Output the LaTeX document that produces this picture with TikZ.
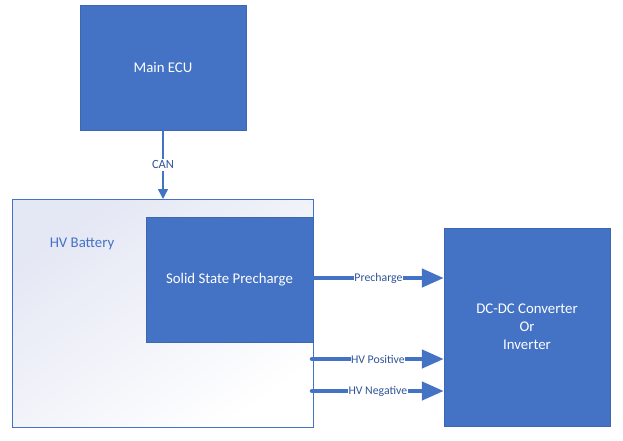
\documentclass[tikz,border=0pt]{standalone}
\usepackage{fontspec}
\setmainfont{Carlito}
\usetikzlibrary{arrows.meta}
\definecolor{boxblue}{HTML}{4472C4}
\definecolor{lineblue}{HTML}{4472C4}
\definecolor{txtblue}{HTML}{2F5597}
\definecolor{shadeblue}{HTML}{E4E7F4}
\tikzset{
  bluebox/.style={draw=boxblue!90!black, line width=0.4pt, fill=boxblue, text=white, font=\fontsize{14.8}{18}\selectfont, align=center, inner sep=0pt},
  fatarrow/.style={draw=lineblue, line width=4.5pt, line cap=round, -{Triangle[length=22pt,width=18pt]}},
  arrlabel/.style={fill=white, text=txtblue, font=\fontsize{11.8}{14}\selectfont, inner sep=0.5pt},
}
\begin{document}
\begin{tikzpicture}[x=1pt,y=-1pt]
\useasboundingbox (0,0) rectangle (623,440);
% HV battery frame
\shade[top color=shadeblue, bottom color=white, shading angle=35] (12,199) rectangle (313,427);
\draw[lineblue, line width=1pt] (12,199) rectangle (313,427);
\node[anchor=base, text=boxblue, font=\fontsize{14.8}{18}\selectfont] (hvlabel) at (82,247) {HV Battery};
% nodes
\node[bluebox, minimum width=166pt, minimum height=125pt] (ecu) at (163,67.5) {Main ECU};
\node[bluebox, minimum width=167pt, minimum height=125pt] (ssp) at (229.5,279.5) {Solid State Precharge};
\node[bluebox, minimum width=166pt, minimum height=198pt] (dcdc) at (527,327) {DC-DC Converter\\Or\\Inverter};
\coordinate (battop) at (163,199);
\coordinate (hvp) at (312,359);
\coordinate (hvn) at (312,391);
% CAN
\draw[lineblue, line width=1.5pt, -{Triangle[length=10pt,width=10pt]}] (ecu.south) -- node[arrlabel, font=\fontsize{12.5}{15}\selectfont, inner sep=2pt] {CAN} (battop);
% power arrows
\draw[fatarrow] (ssp.east |- 0,278) -- node[arrlabel] {Precharge} (dcdc.west |- 0,278);
\draw[fatarrow] (hvp) -- node[arrlabel] {HV Positive} (dcdc.west |- hvp);
\draw[fatarrow] (hvn) -- node[arrlabel] {HV Negative} (dcdc.west |- hvn);
\end{tikzpicture}
\end{document}
